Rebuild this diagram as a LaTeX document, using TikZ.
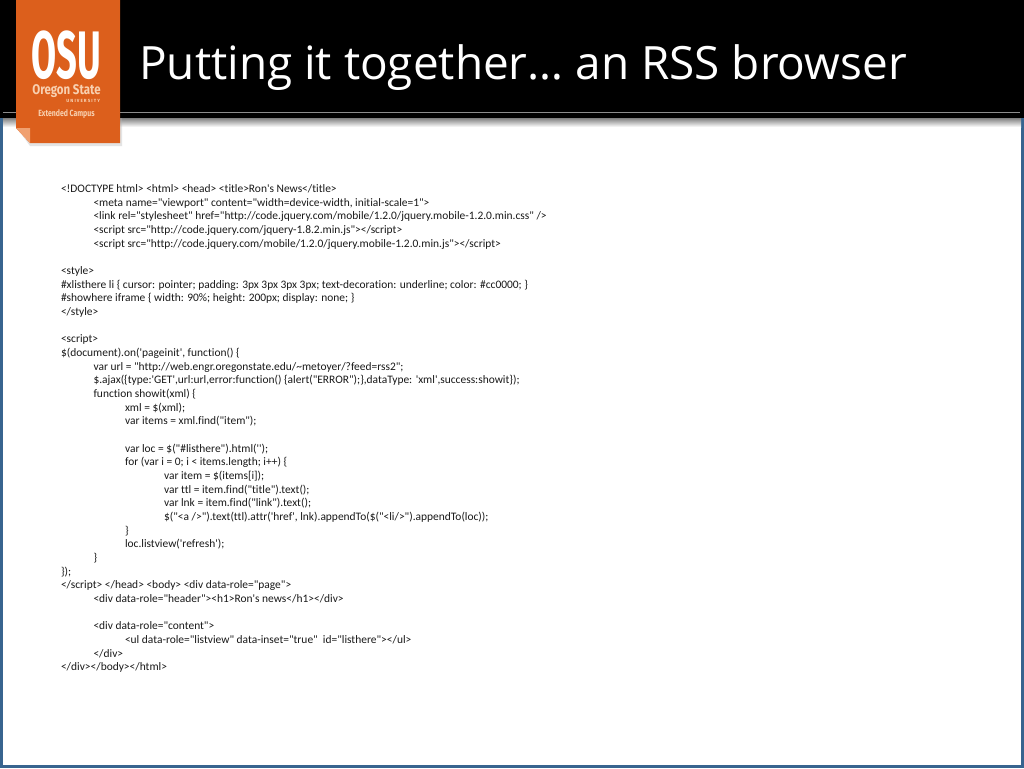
\documentclass[tikz,border=0pt]{standalone}
\usepackage{fontspec}
\setmainfont{Carlito}
\newfontfamily\codefont[Ligatures=NoCommon]{Carlito}
\newfontfamily\titlefont{Open Sans}
\newfontfamily\logofont{Fira Sans}
\definecolor{osuorange}{HTML}{DC5F1C}
\definecolor{osufold}{HTML}{F0A070}
\definecolor{osublue}{HTML}{38648F}
\definecolor{osupale}{HTML}{F8D0B0}
\tikzset{
 code/.style={anchor=base west,inner sep=0pt,outer sep=0pt,font=\codefont\fontsize{11.45}{13}\selectfont,text=black!90,yshift=-0.4pt},
 logotext/.style={inner sep=0pt,outer sep=0pt,text=white,font=\logofont\bfseries,anchor=base},
}
\begin{document}
\begin{tikzpicture}[x=1pt,y=-1pt]
\useasboundingbox (0,0) rectangle (1024,768);
\fill[white] (0,0) rectangle (1024,768);
% frame
\fill[osublue] (0,112) rectangle (3,768);
\fill[osublue] (1021,112) rectangle (1024,768);
\fill[osublue] (0,765) rectangle (1024,768);
% header
\fill[black] (0,0) rectangle (1024,118);
\draw[black!45,line width=0.8pt] (3,112) -- (1020,112);
\shade[top color=black!50,bottom color=white] (3,118) rectangle (1021,127);
% flag
\fill[black!30,opacity=.35] (20,132) -- (30,146) -- (122,146) -- (122,118) -- (20,118) -- cycle;
\fill[osuorange] (16,0) -- (120,0) -- (120,143) -- (30,143) -- (16,128) -- cycle;
\fill[osufold] (16,128) -- (30,128) -- (30,143) -- cycle;
% logo
\node[logotext,xscale=.865,yscale=1.6,text depth=0pt] (osu) at (66.5,78) {\fontsize{42}{42}\selectfont OSU};
\node[logotext,text=osupale,xscale=.82,text depth=0pt,text height=9pt] (oregon) at (66.5,94) {\fontsize{14}{14}\selectfont Oregon State};
\node[logotext,text=osupale,anchor=base east] (univ) at (100,102) {\fontsize{4.5}{5}\selectfont U N I V E R S I T Y};
\node[logotext,text=osupale,xscale=.77] (ext) at (66.5,116) {\fontsize{9}{10}\selectfont Extended Campus};
% title
\node[anchor=base west,inner sep=0pt,text=white,font=\titlefont\fontsize{45.9}{50}\selectfont] (title) at (139,79) {Putting it together… an RSS browser};
% code
\node[code] (l01) at (61,192) {<!DOCTYPE html> <html> <head> <title>Ron's News</title>};
\node[code] (l02) at (93.5,205.7) {<meta name="viewport" content="width=device-width, initial-scale=1">};
\node[code] (l03) at (93.5,219.3) {<link rel="stylesheet" href="http://code.jquery.com/mobile/1.2.0/jquery.mobile-1.2.0.min.css" />};
\node[code] (l04) at (93.5,233) {<script src="http://code.jquery.com/jquery-1.8.2.min.js"></script>};
\node[code] (l05) at (93.5,246.7) {<script src="http://code.jquery.com/mobile/1.2.0/jquery.mobile-1.2.0.min.js"></script>};
\node[code] (l06) at (61,274) {<style>};
\node[code] (l07) at (61,287.7) {\#xlisthere li \{ cursor: pointer; padding: 3px 3px 3px 3px; text-decoration: underline; color: \#cc0000; \}};
\node[code] (l08) at (61,301.4) {\#showhere iframe \{ width: 90\%; height: 200px; display: none; \}};
\node[code] (l09) at (61,315) {</style>};
\node[code] (l10) at (61,342.5) {<script>};
\node[code] (l11) at (61,356.2) {\$(document).on('pageinit', function() \{};
\node[code] (l12) at (93.5,369.8) {var url = "http://web.engr.oregonstate.edu/\textasciitilde metoyer/?feed=rss2";};
\node[code] (l13) at (93.5,383.5) {\$.ajax(\{type:'GET',url:url,error:function() \{alert("ERROR");\},dataType: 'xml',success:showit\});};
\node[code] (l14) at (93.5,397.2) {function showit(xml) \{};
\node[code] (l15) at (125,410.8) {xml = \$(xml);};
\node[code] (l16) at (125,424.5) {var items = xml.find("item");};
\node[code] (l17) at (125,451.8) {var loc = \$("\#listhere").html('');};
\node[code] (l18) at (125,465.5) {for (var i = 0; i < items.length; i++) \{};
\node[code] (l19) at (164,479.2) {var item = \$(items[i]);};
\node[code] (l20) at (164,492.8) {var ttl = item.find("title").text();};
\node[code] (l21) at (164,506.5) {var lnk = item.find("link").text();};
\node[code] (l22) at (164,520.2) {\$("<a />").text(ttl).attr('href', lnk).appendTo(\$("<li/>").appendTo(loc));};
\node[code] (l23) at (125,533.8) {\}};
\node[code] (l24) at (125,547.5) {loc.listview('refresh');};
\node[code] (l25) at (93.5,561.2) {\}};
\node[code] (l26) at (61,574.8) {\});};
\node[code] (l27) at (61,588.5) {</script> </head> <body> <div data-role="page">};
\node[code] (l28) at (93.5,602.2) {<div data-role="header"><h1>Ron's news</h1></div>};
\node[code] (l29) at (93.5,629.5) {<div data-role="content">};
\node[code] (l30) at (125,643.2) {<ul data-role="listview" data-inset="true"\ \ id="listhere"></ul>};
\node[code] (l31) at (93.5,656.8) {</div>};
\node[code] (l32) at (61,670.5) {</div></body></html>};
\end{tikzpicture}
\end{document}
